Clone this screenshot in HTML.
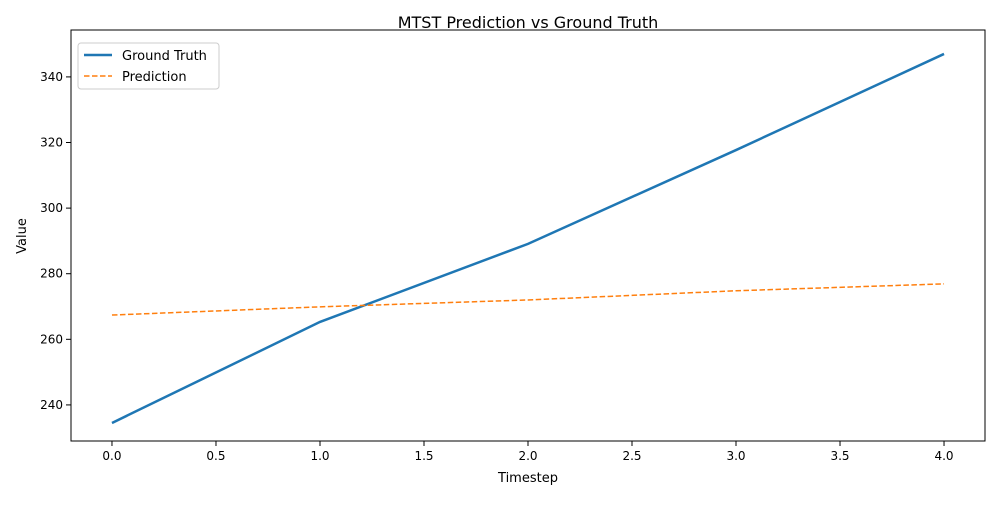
<!DOCTYPE html>
<html><head><meta charset="utf-8"><style>
body{margin:0;background:#fff;font-family:"Liberation Sans","DejaVu Sans",sans-serif}
svg text{font-family:"DejaVu Sans","Liberation Sans",sans-serif}
</style></head><body>
<svg id="chart" width="1000" height="500">
<rect width="1000" height="500" fill="#fff"/>
<text x="528" y="28" text-anchor="middle" font-size="16" fill="#000">MTST Prediction vs Ground Truth</text>
<g id="axes"></g>
<g id="series"></g>
<text x="528" y="482" text-anchor="middle" font-size="13">Timestep</text>
<text transform="translate(26,236) rotate(-90)" text-anchor="middle" font-size="13">Value</text>
<g>
<rect x="78" y="43" width="141" height="46" rx="3" fill="#fff" stroke="#ccc"/>
<line x1="84" y1="55" x2="112" y2="55" stroke="#1f77b4" stroke-width="2.5"/>
<text x="122" y="60" font-size="13">Ground Truth</text>
<line x1="84" y1="76" x2="112" y2="76" stroke="#ff7f0e" stroke-width="1.5" stroke-dasharray="5.5,2.5"/>
<text x="122" y="81" font-size="13">Prediction</text>
</g>
</svg>
<script>
const timesteps=[0,1,2,3,4];
const groundTruth=[234.5,265.3,289.1,317.7,347.0];
const prediction=[267.4,269.9,272.0,274.8,276.9];
const xTicks=[0,0.5,1,1.5,2,2.5,3,3.5,4];
const yTicks=[240,260,280,300,320,340];
const L=71,R=985,T=30,B=441;
const xMin=-0.197,xMax=4.197,yMin=229.0,yMax=354.3;
const sx=v=>L+(v-xMin)/(xMax-xMin)*(R-L);
const sy=v=>B-(v-yMin)/(yMax-yMin)*(B-T);
const NS="http://www.w3.org/2000/svg";
const ax=document.getElementById('axes'),se=document.getElementById('series');
function mk(tag,attrs,parent){const e=document.createElementNS(NS,tag);for(const k in attrs)e.setAttribute(k,attrs[k]);parent.appendChild(e);return e;}
xTicks.forEach(t=>{
 const x=sx(t);
 const l=mk('line',{x1:x,x2:x,y1:B,y2:B+5,stroke:'#000'},ax);
 
 
 const tx=mk('text',{x:x,y:B+19,'text-anchor':'middle','font-size':12},ax);
 tx.textContent=t.toFixed(1);
 
 
});
yTicks.forEach(t=>{
 const y=sy(t);
 const l=mk('line',{x1:L-5,x2:L,y1:y,y2:y,stroke:'#000'},ax);
 
 
 const tx=mk('text',{x:L-8,y:y+4,'text-anchor':'end','font-size':12},ax);
 tx.textContent=t;
 
 
});
const fr=mk('rect',{x:L,y:T,width:R-L,height:B-T,fill:'none',stroke:'#000','stroke-width':1},ax);


const pts=a=>a.map((v,i)=>sx(timesteps[i])+','+sy(v)).join(' ');
const g=mk('polyline',{points:pts(groundTruth),fill:'none',stroke:'#1f77b4','stroke-width':2.5},se);


const p=mk('polyline',{points:pts(prediction),fill:'none',stroke:'#ff7f0e','stroke-width':1.5,'stroke-dasharray':'5.5,2.5'},se);


</script>
</body></html>
